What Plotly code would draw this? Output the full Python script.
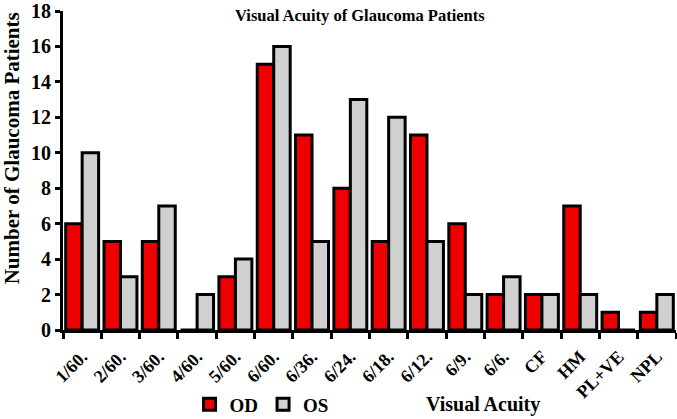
import plotly.graph_objects as go

categories = ["1/60.", "2/60.", "3/60.", "4/60.", "5/60.", "6/60.", "6/36.", "6/24.",
              "6/18.", "6/12.", "6/9.", "6/6.", "CF", "HM", "PL+VE", "NPL"]
od_counts = [6, 5, 5, 0, 3, 15, 11, 8, 5, 11, 6, 2, 2, 7, 1, 1]
os_counts = [10, 3, 7, 2, 4, 16, 5, 13, 12, 5, 2, 3, 2, 2, 0, 2]

serif = "Liberation Serif, Times New Roman, serif"

fig = go.Figure()
fig.add_trace(go.Bar(x=categories, y=od_counts, name="OD",
                     marker=dict(color="#ee0000", line=dict(color="black", width=3))))
fig.add_trace(go.Bar(x=categories, y=os_counts, name="OS",
                     marker=dict(color="#d0d0d0", line=dict(color="black", width=3))))

fig.update_layout(
    width=677, height=419,
    margin=dict(l=63, r=1, t=11, b=89),
    paper_bgcolor="white", plot_bgcolor="white",
    barmode="group", bargap=0.14, bargroupgap=0,
    font=dict(family=serif, color="black", size=16, weight="bold"),
    showlegend=True,
    legend=dict(orientation="h", xref="container", yref="container",
                x=0.28, y=0.035, xanchor="left", yanchor="middle",
                font=dict(family=serif, size=19, weight="bold"),
                itemwidth=30, tracegroupgap=0),
)

fig.update_xaxes(
    type="category", tickson="boundaries", ticks="outside", ticklen=6, tickwidth=3,
    tickcolor="black", tickangle=-45, showline=True, linecolor="black", linewidth=3,
    showgrid=False, automargin=False, ticklabeloverflow="allow", ticklabelstandoff=6,
    tickfont=dict(family=serif, size=18, weight="bold"),
)
fig.update_yaxes(
    range=[0, 18], dtick=2, ticks="outside", ticklen=5, tickwidth=3, tickcolor="black",
    showline=True, linecolor="black", linewidth=3, showgrid=False, zeroline=False,
    automargin=False, ticklabeloverflow="allow",
    tickfont=dict(family=serif, size=20, weight="bold"),
)

# title and axis titles placed as in the reference
fig.add_annotation(text="Visual Acuity of Glaucoma Patients", xref="paper", yref="paper",
                   x=0.484, y=0.987, showarrow=False, xanchor="center", yanchor="middle",
                   font=dict(family=serif, size=16.5, weight="bold"))
fig.add_annotation(text="Visual Acuity", xref="paper", yref="paper",
                   x=0.685, y=-0.235, showarrow=False, xanchor="center", yanchor="middle",
                   font=dict(family=serif, size=20, weight="bold"))
fig.add_annotation(text="Number of Glaucoma Patients", xref="paper", yref="paper",
                   x=-0.083, y=0.57, showarrow=False, xanchor="center", yanchor="middle",
                   textangle=-90, font=dict(family=serif, size=21, weight="bold"))

fig.write_html("out.html", config={"displayModeBar": False},
               post_script="document.body.style.margin='0';")
